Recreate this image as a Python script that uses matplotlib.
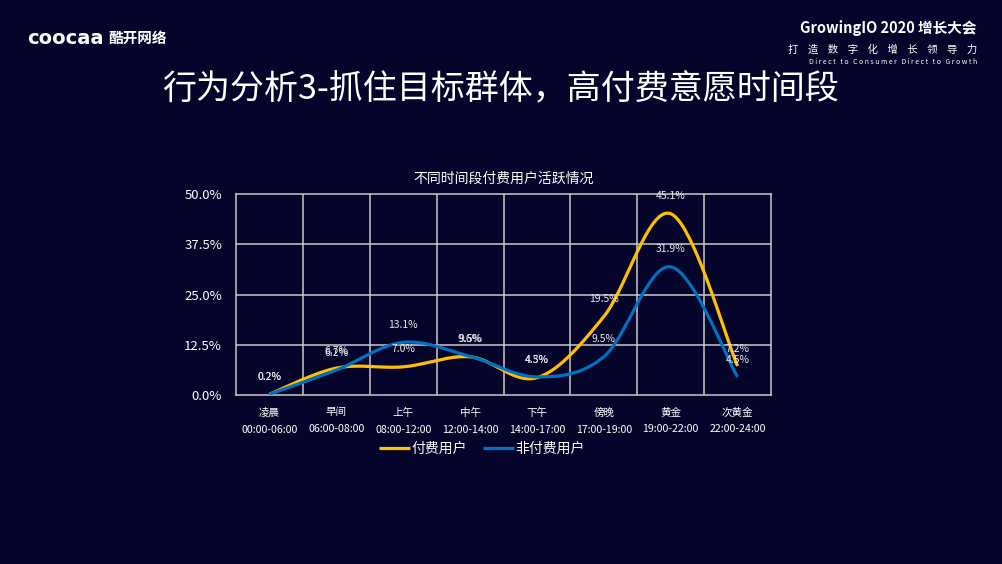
import numpy as np
import matplotlib
matplotlib.use("Agg")
import matplotlib.pyplot as plt

plt.rcParams['font.family'] = ['Noto Sans CJK SC', 'DejaVu Sans']

periods = ["凌晨", "早间", "上午", "中午", "下午", "傍晚", "黄金", "次黄金"]
hours = ["00:00-06:00", "06:00-08:00", "08:00-12:00", "12:00-14:00",
         "14:00-17:00", "17:00-19:00", "19:00-22:00", "22:00-24:00"]
paid = [0.2, 6.7, 7.0, 9.5, 4.3, 19.5, 45.1, 7.2]
unpaid = [0.2, 6.2, 13.1, 9.6, 4.5, 9.5, 31.9, 4.5]
yticks = [0, 12.5, 25, 37.5, 50]

bg = '#05052b'
grid_c = '#c9c9c9'
yellow = '#ffc000'
blue = '#0070c0'


def smooth(xs, ys, n=40):
    # catmull-rom style bezier, like the office "smooth line"
    p = np.column_stack([xs, ys]).astype(float)
    ext = np.vstack([p[0], p, p[-1]])
    out = []
    t = np.linspace(0, 1, n)[:, None]
    for i in range(len(p) - 1):
        p0, p1, p2, p3 = ext[i], ext[i + 1], ext[i + 2], ext[i + 3]
        c1 = p1 + (p2 - p0) / 6
        c2 = p2 - (p3 - p1) / 6
        seg = ((1 - t) ** 3) * p1 + 3 * ((1 - t) ** 2) * t * c1 + 3 * (1 - t) * t ** 2 * c2 + t ** 3 * p2
        out.append(seg)
    out = np.vstack(out)
    return out[:, 0], out[:, 1]


fig = plt.figure(figsize=(10.02, 5.64), dpi=100, facecolor=bg)
ax = fig.add_axes([236 / 1002, 1 - 395 / 564, 535 / 1002, 201 / 564])
ax.set_facecolor(bg)

x = np.arange(len(periods))
sx, sy = smooth(x, paid)
ax.plot(sx, sy, color=yellow, lw=2.3, label="付费用户", solid_capstyle='butt', zorder=3)
sx, sy = smooth(x, unpaid)
ax.plot(sx, sy, color=blue, lw=2.3, label="非付费用户", solid_capstyle='butt', zorder=4)

for xi, v in zip(x, paid):
    ax.annotate(f"{v:.1f}%", (xi, v), xytext=(0, 12.5), textcoords='offset points',
                ha='center', va='center', color='#e8e8e8', fontsize=7.5, zorder=5)
for xi, v in zip(x, unpaid):
    ax.annotate(f"{v:.1f}%", (xi, v), xytext=(0, 12.5), textcoords='offset points',
                ha='center', va='center', color='#e8e8e8', fontsize=7.5, zorder=5)

ax.set_xlim(-0.5, 7.5)
ax.set_ylim(0, 50)
ax.set_yticks(yticks)
ax.set_yticklabels([f"{v:.1f}%" for v in yticks], color='white', fontsize=9.5)
ax.set_xticks(x)
ax.set_xticklabels([f"{a}\n{b}" for a, b in zip(periods, hours)], color='white',
                   fontsize=7.6, linespacing=1.85)
ax.tick_params(length=0)
ax.tick_params(axis='x', pad=9)
ax.tick_params(axis='y', pad=10)
for yv in yticks[1:-1]:
    ax.axhline(yv, color=grid_c, lw=1.1, zorder=1)
for xb in np.arange(0.5, 7.5, 1):
    ax.axvline(xb, color=grid_c, lw=1.1, zorder=1)
for s in ax.spines.values():
    s.set_color(grid_c)
    s.set_linewidth(1.1)

ax.set_title("不同时间段付费用户活跃情况", color='white', fontsize=10, pad=8)

leg = ax.legend(loc='upper center', bbox_to_anchor=(0.46, -0.17), ncol=2, frameon=False,
                fontsize=10, handlelength=2.2, handletextpad=0.1, columnspacing=1.2, labelcolor='white')

fig.text(0.5, 1 - 90 / 564, "行为分析3-抓住目标群体，高付费意愿时间段", color='white',
         fontsize=24.5, ha='center', va='center')

fig.text(27 / 1002, 1 - 38 / 564, "coocaa", color='white', fontsize=14, fontweight='bold',
         ha='left', va='center', family='DejaVu Sans')
fig.text(108 / 1002, 1 - 38 / 564, "酷开网络", color='white', fontsize=10.5, fontweight='bold',
         ha='left', va='center')

fig.text(977 / 1002, 1 - 28 / 564, "GrowingIO 2020 增长大会", color='white', fontsize=10.5,
         fontweight='bold', ha='right', va='center')
fig.text(977 / 1002, 1 - 50 / 564, "打    造    数    字    化    增    长    领    导    力", color='white',
         fontsize=7.5, ha='right', va='center')
fig.text(977 / 1002, 1 - 62 / 564, "D i r e c t   t o   C o n s u m e r   D i r e c t   t o   G r o w t h",
         color='white', fontsize=5, ha='right', va='center')

fig.savefig('out.png', dpi=100, facecolor=bg)
